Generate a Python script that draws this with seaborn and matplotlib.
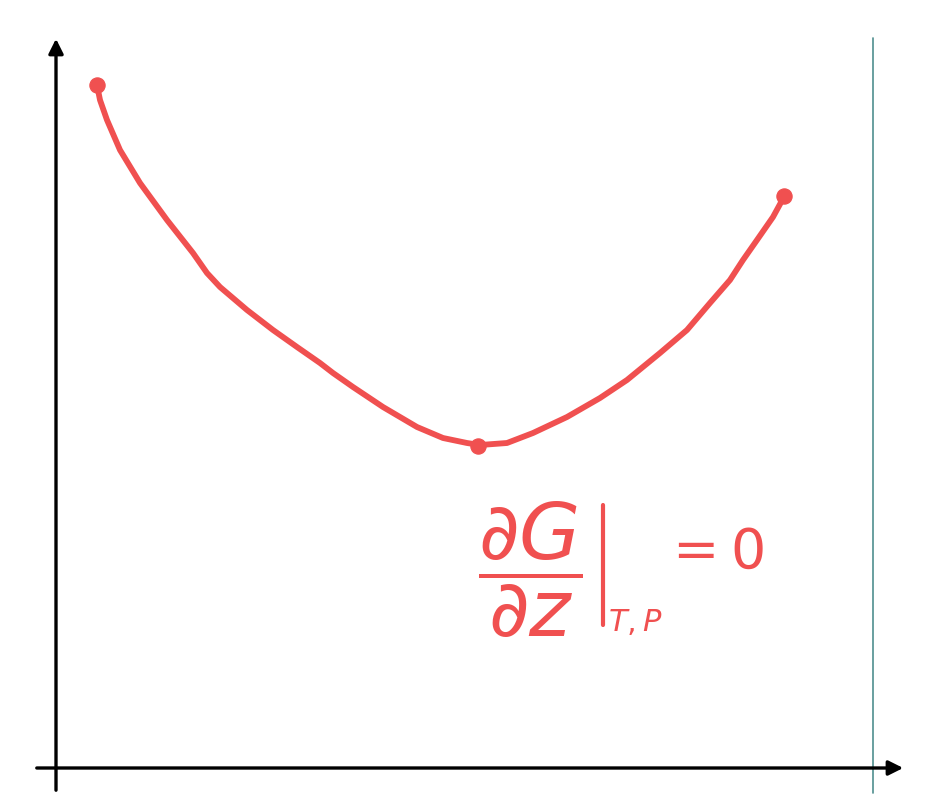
import seaborn as sns
import matplotlib.pyplot as plt

# hand-drawn curve (canvas units, y grows downward)
curve_x = [97, 100, 107, 120, 140, 167, 193, 207, 220, 247, 273, 297, 320,
           333, 353, 383, 417, 443, 467, 480, 507, 533, 567, 600, 627, 660,
           687, 710, 730, 743, 757, 773, 785]
curve_y = [85, 100, 120, 150, 183, 220, 253, 273, 287, 310, 330, 347, 363,
           373, 387, 407, 427, 438, 443, 445, 443, 433, 417, 398, 380, 353,
           330, 303, 280, 260, 240, 217, 195]

marked_x = [97, 478, 784]
marked_y = [85, 446, 196]

frac_label = r'$\dfrac{\partial G}{\partial z}$'
sub_label = r'$T,P$'
rhs_label = r'$=0$'

red = '#f05050'

sns.set_style('white')
fig = plt.figure(figsize=(9.28, 8.09), dpi=100)
ax = fig.add_axes([0, 0, 1, 1])
ax.set_xlim(0, 928)
ax.set_ylim(809, 0)
ax.axis('off')

# axes of the sketch
ax.annotate('', xy=(56, 36), xytext=(56, 793),
            arrowprops=dict(arrowstyle='-|>', lw=2.4, color='black', mutation_scale=22))
ax.annotate('', xy=(906, 768), xytext=(34, 768),
            arrowprops=dict(arrowstyle='-|>', lw=2.4, color='black', mutation_scale=22))
ax.plot([873, 873], [38, 793], color='#4f8f8f', lw=1.2)

# the curve
sns.lineplot(x=curve_x, y=curve_y, sort=False, color=red, lw=4.2, ax=ax,
             solid_joinstyle='round', solid_capstyle='round')
sns.scatterplot(x=marked_x, y=marked_y, color=red, s=120, edgecolor=red, ax=ax, zorder=3)

# annotation at the minimum: dG/dz evaluated at T,P equals zero
ax.text(478, 570, frac_label, color=red, fontsize=57, ha='left', va='center')
ax.plot([603, 603], [505, 625], color=red, lw=3, solid_capstyle='round')
ax.text(608, 622, sub_label, color=red, fontsize=22, ha='left', va='center')
ax.text(662, 553, rhs_label, color=red, fontsize=40, ha='left', va='center')

fig.savefig('out.png', dpi=100)
